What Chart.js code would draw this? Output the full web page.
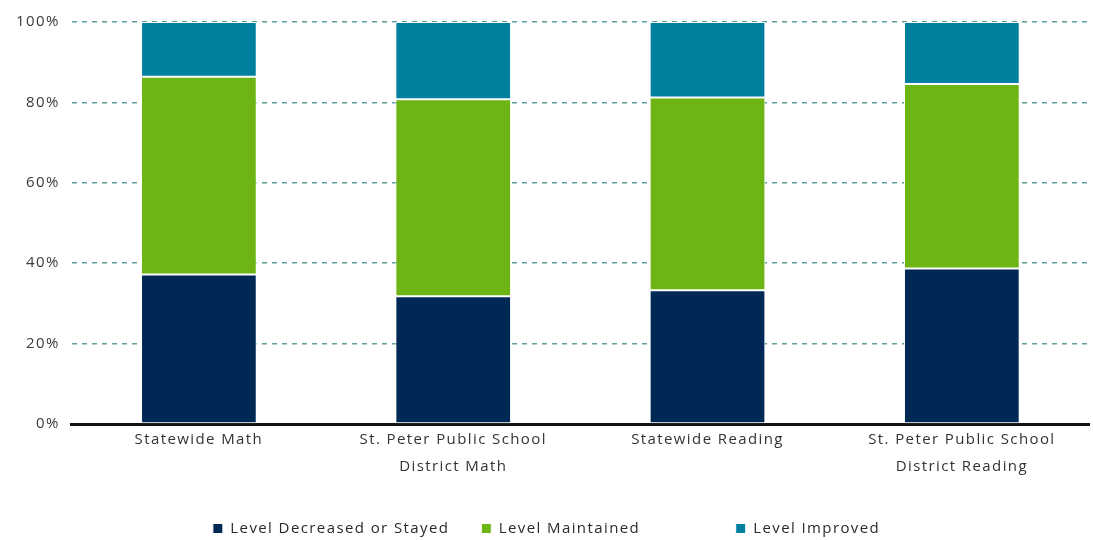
<!DOCTYPE html>
<html>
<head>
<meta charset="utf-8">
<script src="https://cdn.jsdelivr.net/npm/chart.js@4/dist/chart.umd.min.js"></script>
<style>
  html, body { margin: 0; padding: 0; background: #fff; }
  #wrap { width: 1093px; height: 540px; position: relative; }
</style>
</head>
<body>
<div id="wrap"><canvas id="chart"></canvas></div>
<script>
const categories = [
    'Statewide Math',
    ['St. Peter Public School', 'District Math'],
    'Statewide Reading',
    ['St. Peter Public School', 'District Reading']
];
const decreasedValues = [37.2, 31.8, 33.3, 38.7];
const maintainedValues = [49.2, 49.0, 47.9, 45.9];
const improvedValues = [13.6, 19.2, 18.8, 15.4];
const seriesNames = ['Level Decreased or Stayed', 'Level Maintained', 'Level Improved'];
const seriesColors = ['#002855', '#6cb514', '#00809f'];
const yTicks = [0, 20, 40, 60, 80, 100];

const fontFamily = "'Open Sans', 'Liberation Sans', sans-serif";

// the source text is drawn with a little extra letter spacing
const spacingPlugin = {
    id: 'spacing',
    beforeLayout(chart) { chart.ctx.letterSpacing = '1.4px'; },
    beforeDraw(chart) { chart.ctx.letterSpacing = '1.4px'; }
};

// pull the legend a few pixels closer to the bottom edge
const legendShift = {
    id: 'legendShift',
    beforeInit(chart) {
        const fit = chart.legend.fit;
        chart.legend.fit = function () {
            fit.bind(chart.legend)();
            this.height -= 6;
        };
    }
};

const makeSet = (i, data) => ({
    label: seriesNames[i],
    data: data,
    backgroundColor: seriesColors[i],
    borderColor: '#ffffff',
    borderWidth: 1,
    borderSkipped: false,
    barPercentage: 0.455,
    categoryPercentage: 1.0
});

new Chart(document.getElementById('chart'), {
    type: 'bar',
    data: {
        labels: categories,
        datasets: [
            makeSet(0, decreasedValues),
            makeSet(1, maintainedValues),
            makeSet(2, improvedValues)
        ]
    },
    plugins: [spacingPlugin, legendShift],
    options: {
        responsive: true,
        maintainAspectRatio: false,
        animation: false,
        layout: { padding: { left: 4, right: 4, top: 22, bottom: 0 } },
        plugins: {
            tooltip: { enabled: false },
            legend: {
                position: 'bottom',
                labels: {
                    boxWidth: 10,
                    boxHeight: 10,
                    padding: 32,
                    color: '#2a2a2a',
                    font: { family: fontFamily, size: 15 },
                    generateLabels: chart => {
                        const items = Chart.defaults.plugins.legend.labels.generateLabels(chart);
                        // the middle entry sits further from the last one in the source
                        items[1].text = items[1].text + ' '.repeat(12);
                        return items;
                    }
                }
            }
        },
        scales: {
            x: {
                stacked: true,
                grid: { display: false, drawTicks: false },
                border: { display: true, color: '#111111', width: 3 },
                ticks: {
                    color: '#333333',
                    font: { family: fontFamily, size: 15, lineHeight: 1.75 },
                    padding: 3,
                    maxRotation: 0
                },
                afterFit: scale => { scale.height = 65; }
            },
            y: {
                stacked: true,
                min: 0,
                max: 100,
                afterBuildTicks: axis => { axis.ticks = yTicks.map(v => ({ value: v })); },
                grid: { color: '#5f9c9f', lineWidth: 1.5, drawTicks: false },
                border: { display: false, dash: [5, 5] },
                ticks: {
                    color: '#3a3a3a',
                    font: { family: fontFamily, size: 15 },
                    padding: 12,
                    callback: v => v + '%'
                }
            }
        }
    }
});
</script>
</body>
</html>
